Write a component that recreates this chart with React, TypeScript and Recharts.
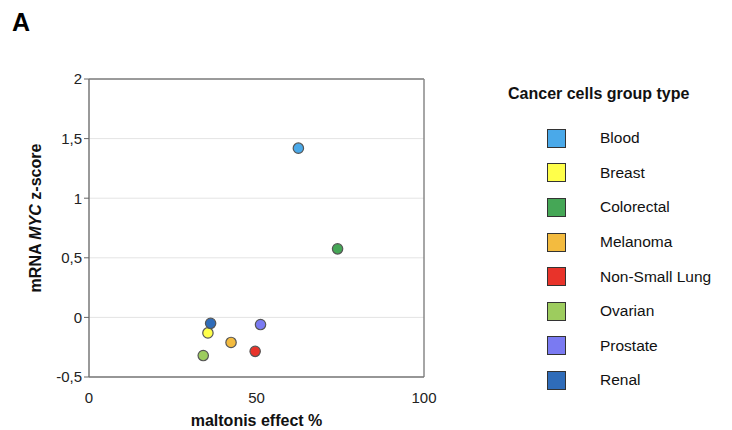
import { ScatterChart, Scatter, XAxis, YAxis, CartesianGrid, ReferenceLine } from 'recharts';

const groups = ['Blood', 'Breast', 'Colorectal', 'Melanoma', 'Non-Small Lung', 'Ovarian', 'Prostate', 'Renal'];
const effect = [62.5, 35.5, 74.2, 42.4, 49.6, 34.1, 51.2, 36.3];
const zScore = [1.42, -0.13, 0.575, -0.21, -0.285, -0.32, -0.06, -0.05];
const colors = ['#4aa9e9', '#ffff4a', '#45a756', '#f3bb3f', '#e8332a', '#9dcc5e', '#7a7af2', '#2f6cb9'];
const xTicks = [0, 50, 100];
const yTicks = [-0.5, 0, 0.5, 1, 1.5, 2];

const data = groups.map((g, i) => ({ group: g, x: effect[i], y: zScore[i], color: colors[i] }));

const font = 'Liberation Sans, Arial, Helvetica, sans-serif';

const Dot = (props: any) => {
  const { cx, cy, payload } = props;
  return <circle cx={cx} cy={cy} r={5.2} fill={payload.color} stroke="#555" strokeWidth={1.2} />;
};

const YTitle = (props: any) => {
  const { viewBox } = props;
  const cx = 35;
  const cy = viewBox.y + viewBox.height / 2 - 10;
  return (
    <text
      x={cx}
      y={cy}
      transform={`rotate(-90 ${cx} ${cy})`}
      textAnchor="middle"
      dominantBaseline="central"
      fontFamily={font}
      fontWeight="bold"
      fontSize={16}
      fill="#111"
    >
      mRNA <tspan fontStyle="italic">MYC</tspan> z-score
    </text>
  );
};

const LegendBox = () => (
  <div style={{ position: 'absolute', left: 480, top: 80, width: 252, fontFamily: font, color: '#111' }}>
    <div style={{ fontWeight: 'bold', fontSize: 16, marginLeft: 28, marginTop: 5, marginBottom: 18 }}>Cancer cells group type</div>
    {groups.map((g, i) => (
      <div key={g} style={{ display: 'flex', alignItems: 'center', height: 34.6 }}>
        <span
          style={{
            display: 'inline-block',
            width: 17,
            height: 17,
            marginLeft: 67,
            background: colors[i],
            border: '1.5px solid #333',
          }}
        />
        <span style={{ marginLeft: 34, fontSize: 15.5 }}>{g}</span>
      </div>
    ))}
  </div>
);

export default function App() {
  return (
    <div style={{ position: 'absolute', left: 0, top: 0, width: 732, height: 430, background: '#fff' }}>
      <div style={{ position: 'absolute', left: 12, top: 8, fontFamily: font, fontWeight: 'bold', fontSize: 25, color: '#000' }}>A</div>
      <ScatterChart width={732} height={430} margin={{ top: 79, right: 308, bottom: 0, left: 0 }}>
        <CartesianGrid vertical={false} stroke="#e4e4e4" />
        <XAxis
          type="number"
          dataKey="x"
          domain={[0, 100]}
          ticks={xTicks}
          height={53}
          axisLine={{ stroke: '#777', strokeWidth: 1.5 }}
          tickLine={false}
          tick={{ fontFamily: font, fontSize: 15, fill: '#222' }}
          tickMargin={9}
          label={{ value: 'maltonis effect %', position: 'insideBottom', offset: 0, dy: -4, style: { fontFamily: font, fontWeight: 'bold', fontSize: 16, fill: '#111' } }}
        />
        <YAxis
          type="number"
          dataKey="y"
          domain={[-0.5, 2]}
          ticks={yTicks}
          width={89}
          axisLine={{ stroke: '#777', strokeWidth: 1.5 }}
          tickLine={{ stroke: '#666' }}
          tickSize={5}
          tickFormatter={(v: number) => String(v).replace('.', ',')}
          tick={{ fontFamily: font, fontSize: 15, fill: '#222' }}
          label={<YTitle />}
        />
        <ReferenceLine y={2} stroke="#444" strokeWidth={1} />
        <ReferenceLine x={100} stroke="#888" strokeWidth={1.5} />
        <Scatter data={data} isAnimationActive={false} shape={<Dot />} legendType="none" />
      </ScatterChart>
      <LegendBox />
    </div>
  );
}
